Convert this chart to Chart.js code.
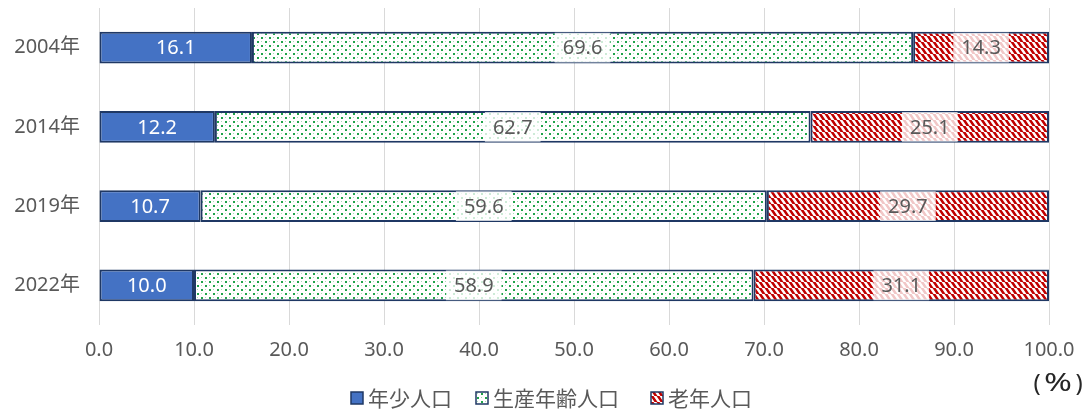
<!DOCTYPE html>
<html lang="ja">
<head>
<meta charset="utf-8">
<script src="https://cdn.jsdelivr.net/npm/chart.js@4/dist/chart.umd.min.js"></script>
<style>
  html, body { margin: 0; padding: 0; background: #fff; }
  #wrap { width: 1089px; height: 412px; position: relative; }
</style>
</head>
<body>
<div id="wrap"><canvas id="c" width="1089" height="412"></canvas></div>
<script>
// Population share by age group (%)
const years = ['2004年', '2014年', '2019年', '2022年'];
const youth = [16.1, 12.2, 10.7, 10.0];
const working = [69.6, 62.7, 59.6, 58.9];
const elderly = [14.3, 25.1, 29.7, 31.1];
const seriesNames = ['年少人口', '生産年齢人口', '老年人口'];
const xTicks = [0, 10, 20, 30, 40, 50, 60, 70, 80, 90, 100];

const FONT = '"Noto Sans", "Noto Sans CJK JP", sans-serif';
const CJK = '"Noto Sans CJK JP", "Noto Sans", sans-serif';
const NAVY = '#1f3864';
const TEXT = '#595959';

function dotPattern() {
  const t = document.createElement('canvas');
  t.width = 8; t.height = 8;
  const g = t.getContext('2d');
  g.fillStyle = '#ffffff';
  g.fillRect(0, 0, 8, 8);
  g.fillStyle = '#1fa34a';
  g.fillRect(1, 1, 2, 2);
  g.fillRect(5, 5, 2, 2);
  g.fillStyle = '#a8dcb7';
  g.fillRect(5, 1, 1, 1);
  g.fillRect(1, 5, 1, 1);
  return g.createPattern(t, 'repeat');
}

function stripePattern() {
  const s = 6;
  const t = document.createElement('canvas');
  t.width = s; t.height = s;
  const g = t.getContext('2d');
  g.fillStyle = '#ffffff';
  g.fillRect(0, 0, s, s);
  g.strokeStyle = '#c00000';
  g.lineWidth = 2.6;
  g.beginPath();
  for (let k = -s; k <= s * 2; k += s) {
    g.moveTo(k - s, -s);
    g.lineTo(k + s, s + s);
  }
  g.stroke();
  return g.createPattern(t, 'repeat');
}

// value labels in the middle of each segment
const segmentLabels = {
  id: 'segmentLabels',
  afterDatasetsDraw(chart) {
    const ctx = chart.ctx;
    ctx.save();
    ctx.font = '20px ' + FONT;
    ctx.textBaseline = 'middle';
    ctx.textAlign = 'center';
    chart.data.datasets.forEach((ds, di) => {
      const meta = chart.getDatasetMeta(di);
      meta.data.forEach((bar, i) => {
        const v = ds.data[i];
        const txt = v.toFixed(1);
        const x = (bar.x + bar.base) / 2;
        const y = bar.y;
        if (di === 0) {
          ctx.fillStyle = '#ffffff';
        } else {
          const w = ctx.measureText(txt).width + 16;
          const h = bar.height - 2;
          ctx.fillStyle = 'rgba(255,255,255,0.78)';
          ctx.fillRect(x - w / 2, y - h / 2, w, h);
          ctx.fillStyle = TEXT;
        }
        ctx.fillText(txt, x, y + 1);
      });
    });
    ctx.restore();
  }
};

// legend row and unit caption along the bottom
const legendRow = {
  id: 'legendRow',
  afterDraw(chart) {
    const ctx = chart.ctx;
    const boxX = [351, 476, 651];
    const cy = 398;
    ctx.save();
    ctx.font = '21px ' + CJK;
    ctx.textBaseline = 'middle';
    ctx.textAlign = 'left';
    chart.data.datasets.forEach((ds, i) => {
      const bx = boxX[i];
      ctx.fillStyle = ds.backgroundColor;
      ctx.fillRect(bx, cy - 6, 12, 12);
      ctx.strokeStyle = NAVY;
      ctx.lineWidth = 1.5;
      ctx.strokeRect(bx, cy - 6, 12, 12);
      ctx.fillStyle = TEXT;
      ctx.fillText(ds.label, bx + 17, cy);
    });
    // unit caption: parentheses around a wide percent sign
    ctx.font = '24px ' + FONT;
    ctx.fillStyle = '#262626';
    ctx.textAlign = 'center';
    ctx.fillText('(', 1037, 384);
    ctx.fillText(')', 1079, 384);
    ctx.save();
    ctx.translate(1058, 384);
    ctx.scale(1.4, 1.05);
    ctx.fillText('%', 0, 0);
    ctx.restore();
    ctx.restore();
  }
};

const common = { borderColor: NAVY, borderWidth: 2, borderSkipped: false, barPercentage: 0.4, categoryPercentage: 1.0 };

new Chart(document.getElementById('c'), {
  type: 'bar',
  data: {
    labels: years,
    datasets: [
      Object.assign({ label: seriesNames[0], data: youth, backgroundColor: '#4472c4' }, common),
      Object.assign({ label: seriesNames[1], data: working, backgroundColor: dotPattern() }, common),
      Object.assign({ label: seriesNames[2], data: elderly, backgroundColor: stripePattern() }, common)
    ]
  },
  options: {
    indexAxis: 'y',
    responsive: false,
    animation: false,
    layout: { padding: { top: 8, right: 40, bottom: 47, left: 0 } },
    scales: {
      x: {
        stacked: true,
        min: 0, max: 100,
        afterBuildTicks(axis) { axis.ticks = xTicks.map(v => ({ value: v })); },
        afterFit(axis) { axis.height = 40; },
        ticks: {
          callback: v => Number(v).toFixed(1),
          color: TEXT,
          font: { family: FONT, size: 20 },
          padding: 13,
          maxRotation: 0
        },
        grid: { color: '#d9d9d9', drawTicks: false },
        border: { display: false }
      },
      y: {
        stacked: true,
        afterFit(axis) { axis.width = 99; axis.paddingTop = 0; axis.paddingBottom = 0; },
        ticks: {
          color: TEXT,
          font: { family: FONT, size: 20 },
          padding: 11
        },
        grid: { display: false },
        border: { display: false }
      }
    },
    plugins: {
      legend: { display: false },
      tooltip: { enabled: false }
    }
  },
  plugins: [segmentLabels, legendRow]
});
</script>
</body>
</html>
